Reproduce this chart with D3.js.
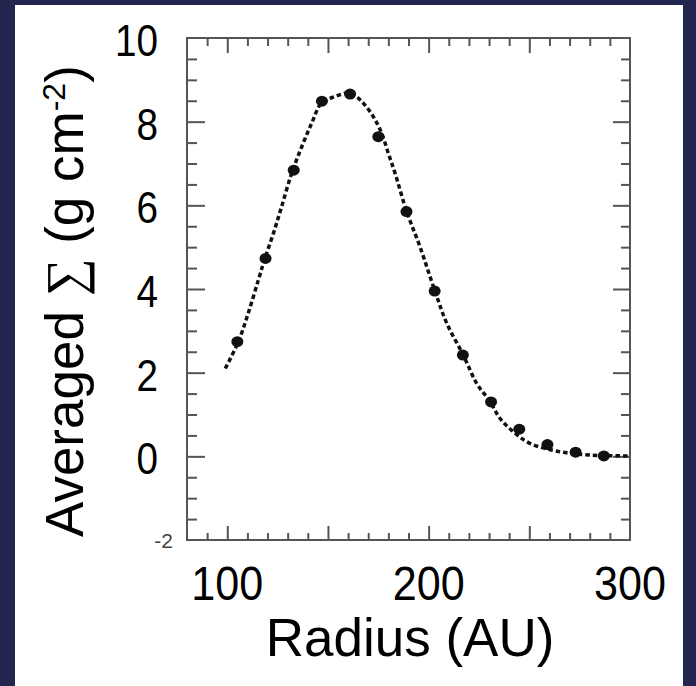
<!DOCTYPE html>
<html>
<head>
<meta charset="utf-8">
<script src="https://cdn.jsdelivr.net/npm/d3@7"></script>
<style>
  body { margin: 0; background: #22264e; }
  svg { display: block; }
  text { font-family: "Liberation Sans", Arial, sans-serif; fill: #000; }
</style>
</head>
<body>
<svg id="chart" width="696" height="686"></svg>
<script>
// Averaged surface density at each radius (dots)
const radius = [105, 119, 133, 147, 161, 175, 189, 203, 217, 231, 245, 259, 273, 287];
const sigma = [2.74, 4.73, 6.84, 8.49, 8.66, 7.64, 5.85, 3.95, 2.42, 1.30, 0.65, 0.28, 0.10, 0.01];

// Dashed fit curve
const fitRadius = [99, 105.5, 110.4, 115.4, 118.7, 122.9, 127, 132, 137, 141.9, 146.9, 153.5, 161, 166.8,
    172.5, 176.7, 180, 183.3, 189.1, 195.7, 203.2, 209, 217.2, 223.9, 230.5, 235.4, 242, 250.3, 265.2, 280.1, 300];
const fitSigma = [2.10, 2.74, 3.42, 4.21, 4.73, 5.33, 5.97, 6.77, 7.40, 7.96, 8.45, 8.60, 8.69, 8.48,
    8.12, 7.72, 7.24, 6.77, 5.85, 5.01, 3.94, 3.18, 2.42, 1.74, 1.31, 0.91, 0.59, 0.31, 0.11, 0.03, 0.01];

// Tick labels
const xTickLabels = [100, 200, 300];
const yTickLabels = [0, 2, 4, 6, 8, 10];

const svg = d3.select("#chart");

// white panel over the navy slide background
svg.append("rect")
    .attr("x", 15).attr("y", 5)
    .attr("width", 668).attr("height", 681)
    .attr("fill", "#fff");

const x = d3.scaleLinear().domain([80, 300]).range([187, 630]);
const y = d3.scaleLinear().domain([-2, 10]).range([540, 38]);

const xMinor = d3.range(90, 300, 10).filter(d => d % 50 !== 0);
const xMajor = [100, 150, 200, 250];
const yMinor = d3.range(-1.5, 10, 0.5).filter(d => d % 2 !== 0);
const yMajor = [0, 2, 4, 6, 8];

// inward ticks on all four sides
function addTicks(axis, tx, ty, values, size) {
    const g = svg.append("g")
        .attr("transform", `translate(${tx},${ty})`)
        .call(axis.tickValues(values).tickSize(-size).tickFormat(""));
    g.select(".domain").remove();
    g.selectAll("line").attr("stroke", "#555").attr("stroke-width", 2);
}
addTicks(d3.axisBottom(x), 0, 540, xMinor, 7);
addTicks(d3.axisBottom(x), 0, 540, xMajor, 14);
addTicks(d3.axisTop(x), 0, 38, xMinor, 8);
addTicks(d3.axisTop(x), 0, 38, xMajor, 15);
addTicks(d3.axisLeft(y), 187, 0, yMinor, 10);
addTicks(d3.axisLeft(y), 187, 0, yMajor, 18);
addTicks(d3.axisRight(y), 630, 0, yMinor, 9);
addTicks(d3.axisRight(y), 630, 0, yMajor, 17);

// frame
svg.append("rect")
    .attr("x", x(80)).attr("y", y(10))
    .attr("width", x(300) - x(80)).attr("height", y(-2) - y(10))
    .attr("fill", "none")
    .attr("stroke", "#555")
    .attr("stroke-width", 2);

// fit curve
const line = d3.line()
    .x(d => x(d[0]))
    .y(d => y(d[1]))
    .curve(d3.curveCatmullRom);

svg.append("path")
    .datum(d3.zip(fitRadius, fitSigma))
    .attr("d", line)
    .attr("fill", "none")
    .attr("stroke", "#111")
    .attr("stroke-width", 3.5)
    .attr("stroke-dasharray", "4.5,3");

// data points
svg.selectAll(".dot")
    .data(d3.zip(radius, sigma))
    .enter().append("ellipse")
    .attr("class", "dot")
    .attr("cx", d => x(d[0]))
    .attr("cy", d => y(d[1]))
    .attr("rx", 6)
    .attr("ry", 5.5)
    .attr("fill", "#111");

// y tick labels (narrow face)
svg.selectAll(".ylab")
    .data(yTickLabels)
    .enter().append("text")
    .attr("class", "ylab")
    .attr("transform", d => `translate(158,${y(d) + 18}) scale(0.86,1)`)
    .attr("text-anchor", "end")
    .attr("font-size", 45)
    .text(d => d);

// the "-2" label is half hidden in the original
svg.append("clipPath").attr("id", "cut")
    .append("rect").attr("x", 130).attr("y", 533).attr("width", 50).attr("height", 30);
svg.append("text")
    .attr("clip-path", "url(#cut)")
    .attr("x", 173).attr("y", 548)
    .attr("text-anchor", "end")
    .attr("font-size", 21)
    .style("fill", "#444")
    .text("-2");

// x tick labels
svg.selectAll(".xlab")
    .data(xTickLabels)
    .enter().append("text")
    .attr("class", "xlab")
    .attr("transform", d => `translate(${x(d)},600) scale(0.88,1)`)
    .attr("text-anchor", "middle")
    .attr("font-size", 49)
    .text(d => d);

// axis titles
svg.append("text")
    .attr("x", 410).attr("y", 656)
    .attr("text-anchor", "middle")
    .attr("font-size", 53)
    .text("Radius (AU)");

const yTitle = svg.append("text")
    .attr("transform", "translate(83,537) rotate(-90)")
    .attr("font-size", 53);
yTitle.append("tspan").text("Averaged ");
yTitle.append("tspan").style("font-family", "'Liberation Serif', serif").text("\u2211");
yTitle.append("tspan").text(" (g cm");
yTitle.append("tspan").attr("font-size", 32).attr("dy", -18).text("-2");
yTitle.append("tspan").attr("dy", 18).text(")");
</script>
</body>
</html>
